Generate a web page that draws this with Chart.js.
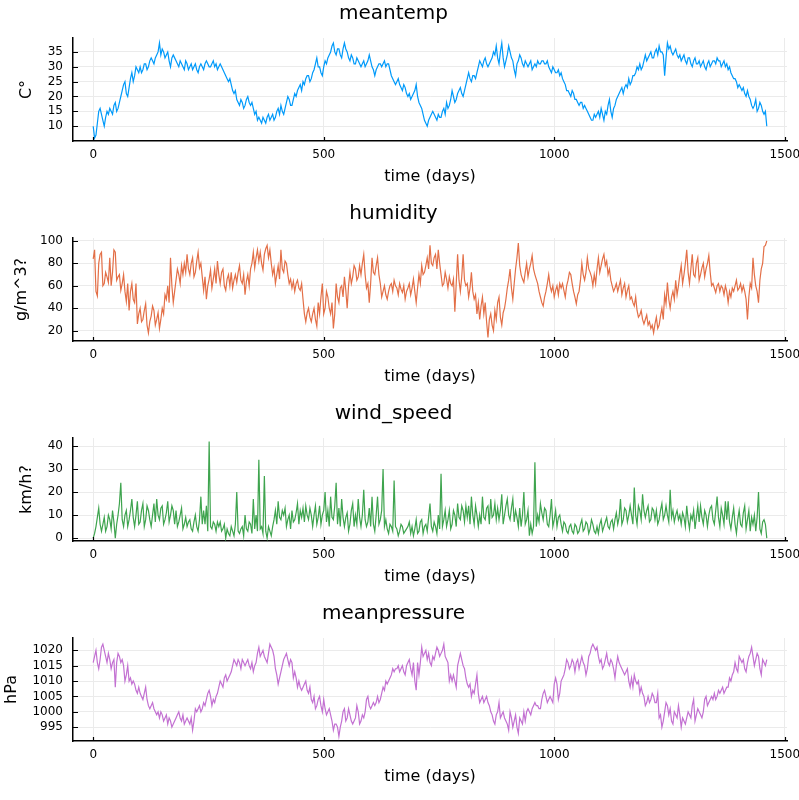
<!DOCTYPE html>
<html>
<head>
<meta charset="utf-8">
<script src="https://cdn.jsdelivr.net/npm/chart.js@4.4.1/dist/chart.umd.min.js"></script>
<style>
  body { margin: 0; background: #fff; }
  canvas { display: block; }
</style>
</head>
<body>
<canvas id="c1" width="799" height="200"></canvas>
<canvas id="c2" width="799" height="200"></canvas>
<canvas id="c3" width="799" height="200"></canvas>
<canvas id="c4" width="799" height="200"></canvas>
<script>
// valores, um ponto a cada ~3 dias (dia 0 até 1461)
const lastDay = 1461;
const xTicks = [0, 500, 1000, 1500];

const meantemp = [
  10,6, 7,11, 15,16, 14,12, 10,13, 15,14, 16,15, 14,17, 18,15, 16,18,
  20,22, 24,25, 21,20, 23,26, 28,25, 27,30, 29,28, 30,28, 29,31, 31,29,
  30,32, 33,32, 31,33, 34,35, 38,34, 36,35, 33,34, 35,32, 30,33, 34,33,
  32,31, 30,32, 31,30, 29,32, 31,29, 30,31, 29,30, 31,29, 28,30, 31,30,
  29,31, 32,31, 30,30, 31,32, 30,31, 29,30, 31,30, 29,28, 27,26, 25,26,
  24,22, 21,22, 19,18, 17,19, 18,16, 17,19, 20,18, 17,18, 16,14, 15,12,
  13,12, 11,13, 12,11, 13,14, 12,13, 14,12, 13,15, 16,14, 17,15, 14,16,
  18,20, 19,17, 17,19, 21,20, 22,23, 24,22, 25,24, 26,27, 27,25, 26,28,
  29,31, 33,30, 30,28, 27,30, 32,31, 33,34, 35,37, 38,35, 34,36, 36,34,
  33,36, 38,36, 35,33, 32,34, 33,31, 31,33, 32,31, 30,31, 32,30, 31,32,
  34,32, 30,29, 27,29, 30,31, 31,30, 31,32, 30,31, 31,29, 27,26, 25,24,
  25,26, 24,23, 22,24, 23,21, 20,21, 19,20, 21,22, 24,20, 18,17, 16,14,
  12,11, 10,12, 13,14, 15,14, 13,12, 14,13, 13,15, 16,14, 18,16, 17,19,
  22,20, 18,19, 21,22, 23,21, 20,22, 24,26, 28,26, 25,27, 27,26, 28,30,
  32,31, 30,32, 33,31, 30,31, 32,33, 35,34, 37,33, 31,35, 38,33, 30,32,
  34,37, 35,33, 32,29, 27,31, 32,34, 33,31, 30,32, 31,30, 31,32, 29,30,
  31,30, 32,31, 31,32, 32,31, 31,32, 30,29, 28,30, 29,28, 28,29, 27,28,
  26,25, 24,22, 22,21, 20,22, 21,19, 19,18, 17,18, 18,16, 17,16, 15,14,
  13,12, 12,14, 13,14, 15,13, 16,14, 12,15, 14,17, 19,15, 13,16, 17,19,
  20,21, 22,23, 21,23, 24,23, 26,24, 25,27, 27,28, 30,29, 31,29, 30,32,
  34,32, 33,34, 35,33, 33,35, 36,34, 37,35, 35,34, 27,33, 38,36, 37,35,
  34,35, 36,34, 33,34, 32,33, 34,32, 31,33, 33,31, 30,32, 33,31, 31,32,
  30,31, 32,30, 29,31, 32,30, 31,32, 32,31, 33,32, 32,30, 31,32, 30,31,
  29,30, 28,27, 26,26, 25,23, 24,23, 22,23, 21,20, 22,20, 19,17, 16,17,
  19,15, 16,18, 17,15, 14,15, 10
];

const humidity = [
  84,92, 55,51, 80,88, 90,60, 62,72, 68,63, 85,60, 72,92, 90,65, 68,70,
  56,62, 70,55, 46,62, 38,55, 62,48, 45,62, 26,35, 40,28, 30,38, 44,25,
  18,28, 33,42, 38,25, 30,36, 22,30, 40,35, 52,48, 60,45, 85,60, 45,55,
  65,75, 70,62, 78,70, 80,72, 88,75, 70,80, 85,68, 72,82, 90,76, 80,68,
  56,68, 48,60, 66,74, 58,66, 75,62, 82,70, 62,72, 75,60, 56,66, 70,60,
  72,58, 65,70, 63,72, 78,65, 62,70, 52,64, 70,60, 75,80, 90,76, 85,92,
  82,90, 80,74, 88,93, 96,85, 92,80, 70,76, 62,70, 78,66, 92,75, 72,82,
  80,70, 62,66, 58,64, 55,62, 65,58, 56,62, 48,35, 28,36, 40,32, 28,35,
  40,30, 24,45, 35,50, 62,35, 40,55, 50,40, 35,45, 22,35, 62,50, 45,58,
  60,50, 68,56, 40,60, 72,62, 68,78, 75,65, 68,78, 70,80, 88,70, 58,62,
  45,62, 85,72, 70,78, 85,70, 62,50, 55,60, 52,48, 55,60, 62,55, 65,60,
  58,52, 62,57, 54,60, 48,55, 58,62, 52,58, 66,55, 45,58, 70,62, 78,70,
  72,78, 85,75, 96,80, 78,85, 88,75, 92,80, 70,60, 62,72, 66,58, 68,62,
  60,66, 37,62, 88,65, 55,68, 88,65, 60,62, 50,58, 72,55, 48,52, 35,45,
  30,42, 50,35, 45,28, 14,30, 35,25, 20,38, 30,45, 50,32, 25,36, 40,48,
  58,65, 75,58, 48,62, 75,85, 98,78, 70,66, 63,72, 80,68, 75,80, 87,75,
  70,66, 62,55, 50,45, 42,50, 55,62, 70,60, 55,60, 50,56, 60,52, 62,58,
  62,56, 50,60, 65,72, 70,62, 55,50, 44,52, 55,65, 80,70, 65,72, 85,75,
  72,68, 60,70, 62,75, 85,72, 78,84, 88,78, 82,70, 75,65, 60,55, 58,62,
  55,60, 65,52, 58,62, 50,56, 60,48, 50,45, 42,50, 38,32, 34,38, 30,26,
  30,34, 25,28, 22,25, 18,26, 32,22, 25,33, 40,30, 52,44, 63,48, 40,50,
  55,48, 65,52, 60,70, 78,62, 70,80, 92,72, 62,75, 88,70, 68,80, 85,65,
  70,76, 80,68, 75,80, 87,72, 60,62, 58,54, 60,62, 55,60, 58,52, 60,55,
  45,55, 50,58, 55,60, 65,56, 58,62, 55,60, 55,48, 30,50, 62,58, 85,70,
  60,55, 45,65, 75,80, 95,96, 100
];

const windSpeed = [
  0,2, 5,9, 13,6, 3,6, 9,3, 5,10, 8,4, 12,7, 0,6, 10,15,
  24,8, 5,10, 12,5, 8,12, 17,9, 5,10, 16,6, 7,12, 15,5, 8,14,
  12,8, 5,10, 15,7, 17,10, 8,13, 14,6, 8,11, 16,7, 10,14, 12,6,
  12,5, 7,10, 13,4, 6,9, 5,7, 8,4, 3,7, 10,5, 3,8, 18,6,
  12,6, 14,3, 42,5, 4,7, 6,3, 7,5, 7,3, 4,6, 0,4, 2,1,
  5,3, 1,6, 20,3, 2,4, 5,1, 10,4, 3,7, 6,2, 17,4, 10,3,
  34,4, 5,2, 27,3, 0,5, 3,1, 5,8, 12,6, 16,9, 8,12, 10,13,
  5,8, 10,4, 12,7, 8,11, 15,6, 12,9, 13,7, 14,10, 8,13, 10,5,
  10,14, 6,9, 14,6, 10,12, 20,7, 12,5, 18,9, 8,14, 24,6, 13,5,
  17,9, 5,9, 11,3, 6,12, 15,5, 10,6, 17,9, 5,10, 21,8, 5,7,
  13,5, 18,6, 3,10, 18,6, 8,12, 30,5, 8,4, 2,6, 5,3, 25,5,
  4,1, 3,6, 5,2, 3,4, 5,7, 2,5, 1,4, 8,2, 3,7, 8,2,
  5,6, 3,9, 15,5, 3,7, 5,2, 10,4, 28,5, 8,12, 5,8, 12,4,
  6,12, 10,5, 15,9, 8,14, 12,7, 14,9, 14,6, 18,10, 6,14, 10,5,
  10,6, 18,9, 8,13, 14,6, 17,9, 10,15, 8,13, 8,12, 19,6, 10,14,
  17,10, 8,13, 17,7, 12,9, 5,13, 5,10, 20,6, 8,12, 1,6, 2,5,
  33,5, 10,7, 15,11, 8,13, 12,6, 5,10, 17,5, 8,12, 5,9, 10,6,
  3,7, 6,3, 2,5, 6,3, 2,6, 5,2, 3,6, 8,3, 4,7, 6,2,
  4,8, 6,3, 2,5, 2,6, 8,3, 5,7, 9,5, 4,7, 8,4, 8,11,
  6,9, 17,6, 8,13, 12,7, 10,14, 10,6, 22,10, 6,14, 12,8, 19,12,
  9,12, 14,7, 8,13, 12,8, 12,6, 8,12, 15,8, 10,14, 10,7, 21,9,
  12,7, 10,12, 8,10, 6,11, 9,5, 14,8, 4,10, 8,12, 4,9, 14,7,
  14,9, 6,12, 10,5, 10,13, 14,8, 6,12, 18,9, 5,13, 10,6, 16,8,
  16,7, 4,9, 13,6, 2,8, 12,6, 5,11, 14,4, 8,12, 3,9, 6,10,
  3,9, 20,4, 2,7, 8,6, 0
];

const meanpressure = [
  1016,1018, 1020,1016, 1014,1017, 1021,1022, 1020,1018, 1016,1019, 1017,1014, 1016,1017, 1008,1016, 1019,1018,
  1016,1017, 1015,1010, 1012,1015, 1010,1011, 1009,1010, 1009,1007, 1006,1008, 1006,1005, 1004,1006, 1008,1004,
  1002,1001, 1002,1003, 1001,1000, 999,1000, 998,1000, 999,997, 998,999, 996,998, 997,995, 996,997,
  998,999, 1000,998, 997,999, 996,997, 998,997, 996,998, 994,997, 1001,1000, 1001,1002, 1000,1001,
  1003,1002, 1004,1006, 1007,1005, 1002,1004, 1003,1005, 1006,1008, 1010,1009, 1008,1011, 1012,1010, 1011,1012,
  1013,1015, 1017,1016, 1015,1017, 1016,1014, 1017,1016, 1015,1016, 1017,1015, 1014,1016, 1013,1015, 1016,1019,
  1021,1018, 1019,1020, 1018,1017, 1016,1019, 1022,1021, 1020,1018, 1014,1012, 1009,1011, 1013,1015, 1017,1018,
  1019,1017, 1015,1017, 1016,1011, 1013,1011, 1008,1010, 1008,1007, 1008,1009, 1010,1007, 1006,1008, 1004,1003,
  1005,1001, 1002,1004, 1005,1002, 1000,1004, 1001,999, 1000,1001, 999,997, 994,996, 996,995, 992,995,
  997,1000, 1001,997, 998,1001, 999,997, 996,997, 998,1002, 1000,996, 997,999, 998,1000, 1004,1005,
  1002,1001, 1002,1003, 1002,1003, 1005,1003, 1004,1006, 1008,1007, 1010,1009, 1010,1011, 1012,1014, 1013,1014,
  1014,1015, 1013,1014, 1015,1013, 1012,1015, 1016,1017, 1014,1012, 1016,1010, 1007,1016, 1012,1016, 1021,1018,
  1019,1020, 1017,1019, 1016,1015, 1018,1017, 1019,1021, 1020,1018, 1019,1020, 1022,1018, 1017,1016, 1010,1012,
  1010,1012, 1010,1008, 1015,1017, 1019,1017, 1015,1014, 1011,1009, 1008,1009, 1005,1007, 1006,1009, 1012,1006,
  1003,1004, 1005,1003, 1004,1005, 1003,1002, 1000,999, 997,996, 999,1000, 1003,998, 999,1000, 998,997,
  996,994, 1000,998, 995,997, 999,995, 993,998, 997,996, 1000,997, 1000,1001, 1000,999, 1001,1002,
  1003,1002, 1002,1001, 1001,1004, 1006,1007, 1005,1003, 1004,1005, 1004,1003, 1009,1011, 1009,1004, 1006,1010,
  1011,1012, 1014,1017, 1016,1014, 1015,1017, 1016,1013, 1016,1017, 1014,1016, 1018,1016, 1015,1012, 1014,1018,
  1019,1021, 1022,1021, 1020,1021, 1018,1016, 1017,1014, 1015,1017, 1019,1016, 1015,1017, 1016,1014, 1011,1015,
  1018,1016, 1015,1014, 1013,1012, 1013,1014, 1010,1008, 1011,1008, 1012,1010, 1009,1010, 1006,1008, 1006,1005,
  1002,1003, 1005,1003, 1004,1006, 1005,1003, 1003,1006, 998,999, 995,997, 1000,1003, 1002,999, 1001,997,
  996,1000, 999,998, 1002,999, 995,998, 997,996, 998,1000, 999,998, 1002,1004, 997,999, 1001,1000,
  999,998, 1000,1004, 1005,1002, 1003,1004, 1005,1004, 1006,1004, 1005,1007, 1006,1007, 1008,1006, 1007,1008,
  1008,1011, 1010,1012, 1013,1016, 1014,1013, 1018,1017, 1016,1017, 1014,1013, 1016,1018, 1019,1021, 1018,1015,
  1017,1019, 1018,1014, 1012,1017, 1016,1015, 1017
];

const tempTicks = [10, 15, 20, 25, 30, 35];
const humidityTicks = [20, 40, 60, 80, 100];
const windTicks = [0, 10, 20, 30, 40];
const pressureTicks = [995, 1000, 1005, 1010, 1015, 1020];

Chart.defaults.font.family = '"DejaVu Sans", sans-serif';
Chart.defaults.color = '#000';

// marquinhas dos ticks para dentro do gráfico
const ticksInternos = {
    id: 'ticksInternos',
    afterDatasetsDraw(chart) {
        const { ctx, chartArea, scales } = chart;
        ctx.save();
        ctx.strokeStyle = '#000';
        ctx.lineWidth = 1.2;
        ctx.beginPath();
        scales.x.ticks.forEach(t => {
            const px = Math.round(scales.x.getPixelForValue(t.value)) + 0.5;
            ctx.moveTo(px, chartArea.bottom);
            ctx.lineTo(px, chartArea.bottom - 4);
        });
        scales.y.ticks.forEach(t => {
            const py = Math.round(scales.y.getPixelForValue(t.value)) + 0.5;
            ctx.moveTo(chartArea.left, py);
            ctx.lineTo(chartArea.left + 5, py);
        });
        ctx.stroke();
        ctx.restore();
    }
};

function gerarPainel(id, titulo, rotuloY, valores, cor, yMin, yMax, yTicks, padRotulo) {
    const pontos = valores.map((v, i) => ({ x: i * lastDay / (valores.length - 1), y: v }));
    new Chart(document.getElementById(id), {
        type: 'line',
        data: {
            datasets: [{
                data: pontos,
                borderColor: cor,
                borderWidth: 1.2,
                pointRadius: 0,
                tension: 0,
                fill: false
            }]
        },
        options: {
            responsive: false,
            animation: false,
            devicePixelRatio: 1,
            layout: { padding: { left: 0, right: 12, top: 0, bottom: 0 } },
            plugins: {
                legend: { display: false },
                tooltip: { enabled: false },
                title: {
                    display: true,
                    text: titulo,
                    color: '#000',
                    font: { size: 20, weight: 'normal', lineHeight: 1 },
                    padding: { top: 4, bottom: 14 }
                }
            },
            scales: {
                x: {
                    type: 'linear',
                    min: -43.83,
                    max: 1504.83,
                    afterBuildTicks: s => { s.ticks = xTicks.map(v => ({ value: v })); },
                    afterFit: s => { s.height = 59; s.paddingLeft = 0; s.paddingRight = 0; },
                    ticks: { padding: 7, font: { size: 12 }, maxRotation: 0, callback: v => String(v) },
                    grid: { color: '#ebebeb', lineWidth: 1, drawTicks: false },
                    border: { display: true, color: '#000', width: 1.5 },
                    title: {
                        display: true,
                        text: 'time (days)',
                        font: { size: 16, lineHeight: 1 },
                        padding: { top: 15, bottom: 15 }
                    }
                },
                y: {
                    min: yMin,
                    max: yMax,
                    afterBuildTicks: s => { s.ticks = yTicks.map(v => ({ value: v })); },
                    afterFit: s => { s.width = 73; s.paddingTop = 0; s.paddingBottom = 0; },
                    ticks: { padding: 10, font: { size: 12 }, callback: v => String(v) },
                    grid: { color: '#ebebeb', lineWidth: 1, drawTicks: false },
                    border: { display: true, color: '#000', width: 1.5 },
                    title: {
                        display: true,
                        text: rotuloY,
                        font: { size: 16, lineHeight: 1 },
                        padding: { top: padRotulo, bottom: padRotulo }
                    }
                }
            }
        },
        plugins: [ticksInternos]
    });
}

gerarPainel('c1', 'meantemp', 'C°', meantemp, '#009AFA', 5.02, 39.69, tempTicks, 19);
gerarPainel('c2', 'humidity', 'g/m^3?', humidity, '#E36F47', 10.8, 102.6, humidityTicks, 14);
gerarPainel('c3', 'wind_speed', 'km/h?', windSpeed, '#3EA44E', -1.27, 43.49, windTicks, 19);
gerarPainel('c4', 'meanpressure', 'hPa', meanpressure, '#C371D2', 990.5, 1024.0, pressureTicks, 4);
</script>
</body>
</html>
